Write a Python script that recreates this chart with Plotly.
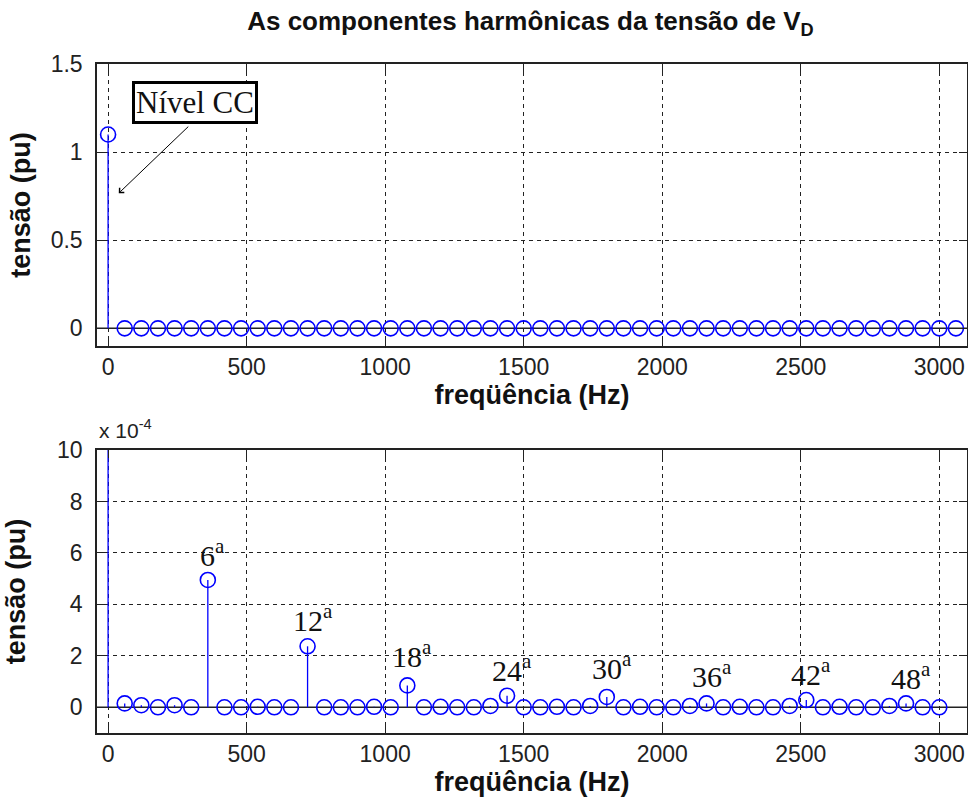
import plotly.graph_objects as go

# ---------------- data ----------------
freq_top = [0, 60, 120, 180, 240, 300, 360, 420, 480, 540, 600, 660, 720, 780, 840, 900,
            960, 1020, 1080, 1140, 1200, 1260, 1320, 1380, 1440, 1500, 1560, 1620, 1680,
            1740, 1800, 1860, 1920, 1980, 2040, 2100, 2160, 2220, 2280, 2340, 2400, 2460,
            2520, 2580, 2640, 2700, 2760, 2820, 2880, 2940, 3000, 3060]
vd_top = [1.1, 0, 0, 0, 0, 0, 0, 0, 0, 0, 0, 0, 0, 0, 0, 0,
          0, 0, 0, 0, 0, 0, 0, 0, 0, 0, 0, 0, 0,
          0, 0, 0, 0, 0, 0, 0, 0, 0, 0, 0, 0, 0,
          0, 0, 0, 0, 0, 0, 0, 0, 0, 0]

freq_bot = [0, 60, 120, 180, 240, 300, 360, 420, 480, 540, 600, 660, 720, 780, 840, 900,
            960, 1020, 1080, 1140, 1200, 1260, 1320, 1380, 1440, 1500, 1560, 1620, 1680,
            1740, 1800, 1860, 1920, 1980, 2040, 2100, 2160, 2220, 2280, 2340, 2400, 2460,
            2520, 2580, 2640, 2700, 2760, 2820, 2880, 2940, 3000]
# values in units of 1e-4 pu
vd_bot_e4 = [11000, 0.15, 0.08, 0.0, 0.08, 0.0, 4.95, 0.0, 0.0, 0.02, 0.0, 0.0, 2.37, 0.0,
             0.0, 0.0, 0.02, 0.0, 0.85, 0.0, 0.02, 0.0, 0.0, 0.05, 0.45, 0.0, 0.0, 0.02,
             0.0, 0.05, 0.40, 0.0, 0.02, 0.0, 0.0, 0.05, 0.15, 0.0, 0.02, 0.0, 0.0, 0.05,
             0.28, 0.0, 0.02, 0.0, 0.0, 0.05, 0.15, 0.0, 0.0]

harm_freq = [360, 720, 1080, 1440, 1800, 2160, 2520, 2880]
harm_text = ["6", "12", "18", "24", "30", "36", "42", "48"]
harm_label_y = [5.18, 2.65, 1.25, 0.70, 0.78, 0.47, 0.55, 0.39]

x_ticks = [0, 500, 1000, 1500, 2000, 2500, 3000]
y_ticks_top = [0, 0.5, 1, 1.5]
y_ticks_bot = [0, 2, 4, 6, 8, 10]

BLUE = "#0000ff"


def stem_xy(xs, ys):
    sx, sy = [], []
    for x, y in zip(xs, ys):
        sx += [x, x, None]
        sy += [0, y, None]
    return sx, sy


fig = go.Figure()
for xs, ys, xa, ya in [(freq_top, vd_top, "x", "y"), (freq_bot, vd_bot_e4, "x2", "y2")]:
    sx, sy = stem_xy(xs, ys)
    fig.add_trace(go.Scatter(x=sx, y=sy, mode="lines", line=dict(color=BLUE, width=1.3),
                             xaxis=xa, yaxis=ya, showlegend=False, hoverinfo="skip"))
    fig.add_trace(go.Scatter(x=xs, y=ys, mode="markers", xaxis=xa, yaxis=ya, showlegend=False,
                             marker=dict(symbol="circle-open", size=15, color=BLUE,
                                         line=dict(color=BLUE, width=1.6))))

tick_font = dict(family="Liberation Sans, Arial, sans-serif", size=23, color="#222")
lab_font = dict(family="Liberation Sans, Arial, sans-serif", size=27, color="#111")

axis_common = dict(showgrid=True, gridcolor="#222", gridwidth=1.3, griddash="4px,4px",
                   showline=True, linecolor="#222", linewidth=1.5, mirror="ticks",
                   ticks="inside", ticklen=8, tickcolor="#222", zeroline=False,
                   tickfont=tick_font, automargin=False)

fig.update_layout(
    width=968, height=805,
    margin=dict(l=97, r=1, t=64, b=72),
    paper_bgcolor="white", plot_bgcolor="white",
    xaxis=dict(domain=[0, 1], anchor="y", range=[-40, 3100], tickvals=x_ticks,
               title=dict(text="<b>freqüência (Hz)</b>", font=lab_font, standoff=2),
               **axis_common),
    yaxis=dict(domain=[0.5785, 1], anchor="x", range=[-0.1, 1.5], tickvals=y_ticks_top,
               ticktext=["0", "0.5", "1", "1.5"], ticklabelstandoff=8,
               title=dict(text="<b>tensão (pu)</b>", font=lab_font, standoff=12),
               **axis_common),
    xaxis2=dict(domain=[0, 1], anchor="y2", range=[-40, 3100], tickvals=x_ticks,
                title=dict(text="<b>freqüência (Hz)</b>", font=lab_font, standoff=2),
                **axis_common),
    yaxis2=dict(domain=[0, 0.423], anchor="x2", range=[-1, 10], tickvals=y_ticks_bot,
                ticklabelstandoff=8,
                title=dict(text="<b>tensão (pu)</b>", font=lab_font, standoff=24),
                **axis_common),
    title=dict(text="<b>As componentes harmônicas da tensão de V<sub>D</sub></b>",
               x=0.548, xanchor="center", y=0.985, yanchor="top",
               font=dict(family="Liberation Sans, Arial, sans-serif", size=26, color="#111")),
)

# stem baselines
for xr, yr in [("x domain", "y"), ("x2 domain", "y2")]:
    fig.add_shape(type="line", xref=xr, yref=yr, x0=0, x1=1, y0=0, y1=0,
                  line=dict(color="#222", width=1.5), layer="below")

serif = dict(family="Liberation Serif, Times New Roman, serif", color="#111")

# Nível CC annotation
fig.add_annotation(x=313, y=1.284, xref="x", yref="y", text="Nível CC", showarrow=False,
                   font=dict(size=31, **serif), bgcolor="white", bordercolor="black",
                   borderwidth=3, borderpad=1)
fig.add_annotation(x=38.6, y=0.767, xref="x", yref="y", text="", showarrow=True,
                   ax=71, ay=-68, arrowhead=4, arrowsize=1.3, arrowwidth=1,
                   arrowcolor="black")

# harmonic labels
for f, t, ly in zip(harm_freq, harm_text, harm_label_y):
    fig.add_annotation(x=f, y=ly, xref="x2", yref="y2", text=t + "<sup>a</sup>",
                       showarrow=False, yanchor="bottom", xanchor="center", xshift=5,
                       font=dict(size=30, **serif))

# exponent label
fig.add_annotation(x=0, y=1, xref="x2 domain", yref="y2 domain", text="x 10<sup>-4</sup>",
                   showarrow=False, xanchor="left", yanchor="bottom", yshift=6,
                   font=dict(family="Liberation Sans, Arial, sans-serif", size=21, color="#222"))

fig.write_html("out.html", config={"displayModeBar": False},
               post_script="document.body.style.margin='0px';"
                           "document.body.style.overflow='hidden';")
